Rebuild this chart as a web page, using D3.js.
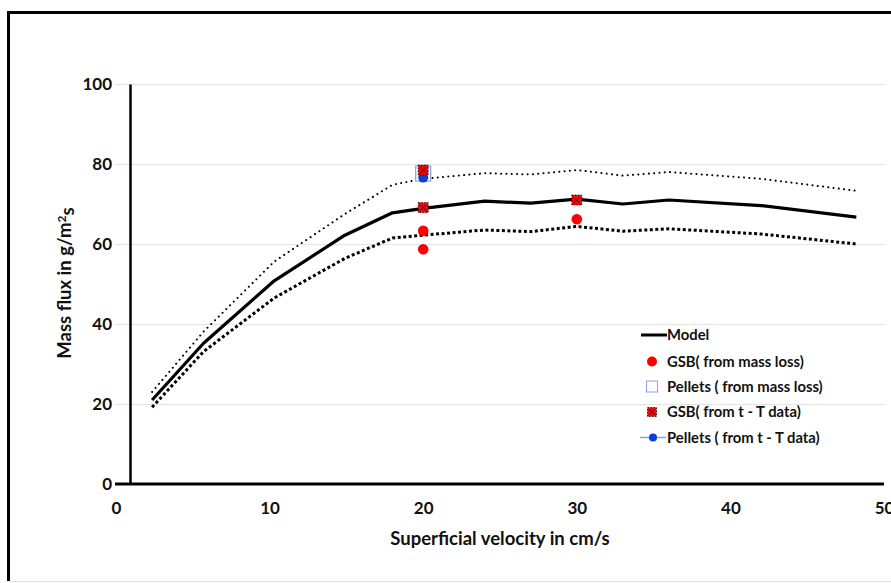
<!DOCTYPE html>
<html>
<head>
<meta charset="utf-8">
<script src="https://cdn.jsdelivr.net/npm/d3@7"></script>
<style>
  html, body { margin: 0; padding: 0; background: #fff; }
  svg text { font-family: Lato, "Open Sans", sans-serif; font-weight: bold; fill: #111; }
</style>
</head>
<body>
<svg id="chart" width="891" height="583"></svg>
<script>
// ---- data ----
const modelX  = [2.35, 5.7, 10.3, 14.9, 18.0, 20.0, 24.0, 27.0, 30.0, 33.0, 36.0, 42.0, 48.2];
const modelY  = [21.0, 35.2, 50.8, 62.2, 67.8, 68.9, 70.7, 70.2, 71.2, 70.0, 71.0, 69.6, 66.7];
const upperY  = [23.0, 38.1, 55.6, 67.5, 74.8, 76.3, 77.7, 77.4, 78.5, 77.1, 78.0, 76.3, 73.3];
const lowerY  = [19.2, 33.1, 46.5, 56.4, 61.5, 62.2, 63.5, 63.1, 64.4, 63.2, 63.8, 62.5, 60.0];

const gsbMassX = [20, 20, 30];
const gsbMassY = [58.7, 63.3, 66.2];
const pelletsMassX = [20];
const pelletsMassY = [77.6];
const gsbTTX = [20, 20, 30];
const gsbTTY = [69.1, 78.5, 71.0];
const pelletsTTX = [20];
const pelletsTTY = [76.6];

const xTicks = [0, 10, 20, 30, 40, 50];
const yTicks = [0, 20, 40, 60, 80, 100];
const legendLabels = ["Model", "GSB( from mass loss)", "Pellets ( from mass loss)", "GSB(  from t - T data)", "Pellets ( from t - T data)"];

// ---- layout ----
const svg = d3.select("#chart");
const x = d3.scaleLinear().domain([0, 50]).range([116, 884]);
const y = d3.scaleLinear().domain([0, 100]).range([484, 84]);
const yAxisX = 130;

// outer frame
svg.append("line").attr("x1", 8.5).attr("y1", 12.5).attr("x2", 891).attr("y2", 12.5)
  .attr("stroke", "#000").attr("stroke-width", 3);
svg.append("line").attr("x1", 8.5).attr("y1", 11).attr("x2", 8.5).attr("y2", 581)
  .attr("stroke", "#000").attr("stroke-width", 3);
svg.append("line").attr("x1", 10).attr("y1", 581.5).attr("x2", 891).attr("y2", 581.5)
  .attr("stroke", "#ddd").attr("stroke-width", 1);

// gridlines
svg.append("g").selectAll("line").data(yTicks.filter(d => d > 0)).join("line")
  .attr("x1", 115).attr("x2", 884)
  .attr("y1", d => Math.round(y(d)) + 0.5).attr("y2", d => Math.round(y(d)) + 0.5)
  .attr("stroke", "#e3e3e3").attr("stroke-width", 1);

// y axis
const yAxis = d3.axisLeft(y).tickValues(yTicks).tickSize(0).tickPadding(18);
const gy = svg.append("g").attr("transform", `translate(${yAxisX},0)`).call(yAxis);
gy.select(".domain").attr("stroke", "#000").attr("stroke-width", 2.5);
gy.selectAll("text").style("font-size", "17px").attr("dy", "0.35em");

// x axis
const xAxis = d3.axisBottom(x).tickValues(xTicks).tickSize(0).tickPadding(18);
const gx = svg.append("g").attr("transform", `translate(0,${y(0)})`).call(xAxis);
gx.select(".domain").attr("stroke", "#000").attr("stroke-width", 3).attr("d", `M115,0H884`);
gx.selectAll("text").style("font-size", "17px");

// axis titles
svg.append("text").attr("x", 500).attr("y", 545).attr("text-anchor", "middle")
  .style("font-size", "18.5px").text("Superficial velocity in cm/s");
const yt = svg.append("text").attr("transform", "translate(71,283) rotate(-90)")
  .attr("text-anchor", "middle").style("font-size", "18.5px");
yt.append("tspan").text("Mass flux in g/m");
yt.append("tspan").attr("dy", "-0.45em").style("font-size", "12px").text("2");
yt.append("tspan").attr("dy", "0.45em").text("s");

// lines
const pts = (xs, ys) => xs.map((v, i) => [v, ys[i]]);
const line = d3.line().x(d => x(d[0])).y(d => y(d[1]));
svg.append("path").attr("d", line(pts(modelX, upperY))).attr("fill", "none")
  .attr("stroke", "#000").attr("stroke-width", 2).attr("stroke-linecap", "round")
  .attr("stroke-dasharray", "0.1 5.2");
svg.append("path").attr("d", line(pts(modelX, lowerY))).attr("fill", "none")
  .attr("stroke", "#000").attr("stroke-width", 3).attr("stroke-linecap", "butt")
  .attr("stroke-dasharray", "3 2.5");
svg.append("path").attr("d", line(pts(modelX, modelY))).attr("fill", "none")
  .attr("stroke", "#000").attr("stroke-width", 3.2).attr("stroke-linejoin", "round");

// markers
function redSquare(g, cx, cy, s) {
  g.append("rect").attr("x", cx - s/2).attr("y", cy - s/2).attr("width", s).attr("height", s)
    .attr("fill", "#f00").attr("stroke", "#000").attr("stroke-width", 0.8).attr("stroke-dasharray", "1.5 1.5");
  g.append("path").attr("d", `M${cx-3},${cy-3}L${cx+3},${cy+3}M${cx+3},${cy-3}L${cx-3},${cy+3}`)
    .attr("stroke", "#000").attr("stroke-width", 0.8);
}
const mk = svg.append("g");
mk.selectAll("rect.pm").data(pts(pelletsMassX, pelletsMassY)).join("rect").attr("class", "pm")
  .attr("x", d => x(d[0]) - 7.5).attr("y", d => y(d[1]) - 7.5).attr("width", 15).attr("height", 15)
  .attr("fill", "#fff").attr("stroke", "#8c9ef0").attr("stroke-width", 1.2);
mk.selectAll("circle.pt").data(pts(pelletsTTX, pelletsTTY)).join("circle").attr("class", "pt")
  .attr("cx", d => x(d[0])).attr("cy", d => y(d[1])).attr("r", 5).attr("fill", "#0b3fd6");
mk.selectAll("circle.gm").data(pts(gsbMassX, gsbMassY)).join("circle").attr("class", "gm")
  .attr("cx", d => x(d[0])).attr("cy", d => y(d[1])).attr("r", 5.3).attr("fill", "#f00");
pts(gsbTTX, gsbTTY).forEach(d => redSquare(mk, x(d[0]), y(d[1]), 10));

// legend
const lg = svg.append("g");
const rowsY = [335, 361.5, 386.5, 412, 437.5];
const tx = 667;
lg.append("line").attr("x1", 641).attr("x2", 667).attr("y1", rowsY[0]).attr("y2", rowsY[0])
  .attr("stroke", "#000").attr("stroke-width", 3);
lg.append("circle").attr("cx", 652).attr("cy", rowsY[1]).attr("r", 5).attr("fill", "#f00");
lg.append("rect").attr("x", 646.5).attr("y", rowsY[2] - 5.5).attr("width", 11).attr("height", 11)
  .attr("fill", "#fff").attr("stroke", "#8c9ef0").attr("stroke-width", 1);
redSquare(lg, 652, rowsY[3], 9);
lg.append("line").attr("x1", 640).attr("x2", 666).attr("y1", rowsY[4]).attr("y2", rowsY[4])
  .attr("stroke", "#7fa6e0").attr("stroke-width", 1.5);
lg.append("circle").attr("cx", 653).attr("cy", rowsY[4]).attr("r", 4).attr("fill", "#0b3fd6");
lg.selectAll("text").data(legendLabels).join("text")
  .attr("x", tx).attr("y", (d, i) => rowsY[i]).attr("dy", "0.35em")
  .style("font-size", "14.8px").text(d => d);
</script>
</body>
</html>
